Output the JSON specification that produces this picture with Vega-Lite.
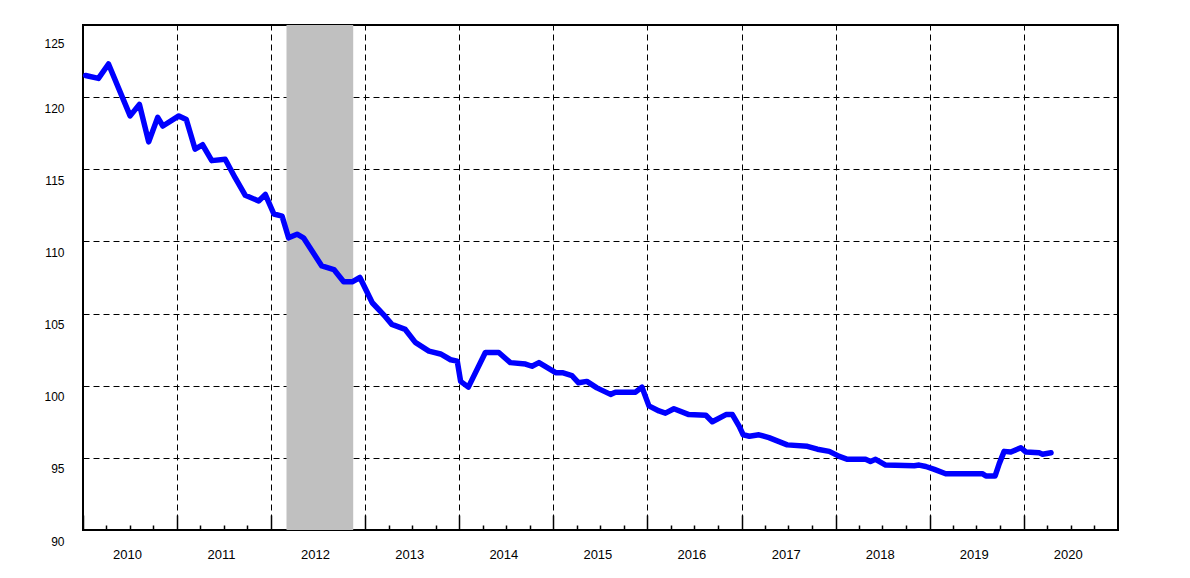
{
  "$schema": "https://vega.github.io/schema/vega-lite/v6.json",
  "width": 1035,
  "height": 505,
  "autosize": {"type": "none"},
  "padding": {"left": 83, "top": 25, "right": 72, "bottom": 48},
  "background": "white",
  "config": {
    "view": {"stroke": "black", "strokeWidth": 2},
    "axis": {"labelFont": "Liberation Sans", "labelColor": "black", "gridColor": "black", "gridDash": [6, 4], "gridWidth": 1, "gridOpacity": 1, "tickColor": "black", "tickOpacity": 1}
  },
  "datasets": {
    "recession": [{"start": "2012-03-01", "end": "2012-11-15"}],
    "series": [
      {"date": "2010-01-11", "value": 121.5},
      {"date": "2010-03-02", "value": 121.3},
      {"date": "2010-04-10", "value": 122.3},
      {"date": "2010-07-03", "value": 118.7},
      {"date": "2010-08-08", "value": 119.5},
      {"date": "2010-09-13", "value": 116.9},
      {"date": "2010-10-18", "value": 118.6},
      {"date": "2010-11-07", "value": 118.0},
      {"date": "2011-01-08", "value": 118.7},
      {"date": "2011-02-06", "value": 118.45},
      {"date": "2011-03-12", "value": 116.4},
      {"date": "2011-04-10", "value": 116.7},
      {"date": "2011-05-16", "value": 115.6},
      {"date": "2011-07-07", "value": 115.7},
      {"date": "2011-08-15", "value": 114.4},
      {"date": "2011-09-23", "value": 113.2},
      {"date": "2011-11-14", "value": 112.8},
      {"date": "2011-12-10", "value": 113.25},
      {"date": "2012-01-12", "value": 111.9},
      {"date": "2012-02-13", "value": 111.75},
      {"date": "2012-03-09", "value": 110.25},
      {"date": "2012-04-11", "value": 110.5},
      {"date": "2012-05-06", "value": 110.25},
      {"date": "2012-07-16", "value": 108.3},
      {"date": "2012-09-01", "value": 108.05},
      {"date": "2012-10-09", "value": 107.2},
      {"date": "2012-11-11", "value": 107.2},
      {"date": "2012-12-11", "value": 107.5},
      {"date": "2013-01-28", "value": 105.75},
      {"date": "2013-03-19", "value": 104.8},
      {"date": "2013-04-14", "value": 104.25},
      {"date": "2013-06-05", "value": 103.9},
      {"date": "2013-07-14", "value": 103.0},
      {"date": "2013-09-05", "value": 102.4},
      {"date": "2013-10-20", "value": 102.2},
      {"date": "2013-11-28", "value": 101.8},
      {"date": "2013-12-24", "value": 101.7},
      {"date": "2014-01-06", "value": 100.3},
      {"date": "2014-02-05", "value": 99.9},
      {"date": "2014-04-12", "value": 102.3},
      {"date": "2014-06-03", "value": 102.3},
      {"date": "2014-07-18", "value": 101.6},
      {"date": "2014-09-15", "value": 101.5},
      {"date": "2014-10-10", "value": 101.35},
      {"date": "2014-11-06", "value": 101.6},
      {"date": "2015-01-10", "value": 100.9},
      {"date": "2015-02-05", "value": 100.9},
      {"date": "2015-03-14", "value": 100.7},
      {"date": "2015-04-09", "value": 100.2},
      {"date": "2015-05-11", "value": 100.3},
      {"date": "2015-06-19", "value": 99.85},
      {"date": "2015-08-11", "value": 99.4},
      {"date": "2015-08-30", "value": 99.55},
      {"date": "2015-11-16", "value": 99.55},
      {"date": "2015-12-11", "value": 99.9},
      {"date": "2016-01-07", "value": 98.6},
      {"date": "2016-02-15", "value": 98.25},
      {"date": "2016-03-11", "value": 98.1},
      {"date": "2016-04-13", "value": 98.4},
      {"date": "2016-06-10", "value": 98.0},
      {"date": "2016-08-15", "value": 97.95},
      {"date": "2016-09-09", "value": 97.5},
      {"date": "2016-11-01", "value": 98.0},
      {"date": "2016-11-26", "value": 98.0},
      {"date": "2016-12-22", "value": 97.2},
      {"date": "2017-01-07", "value": 96.6},
      {"date": "2017-01-31", "value": 96.5},
      {"date": "2017-03-09", "value": 96.6},
      {"date": "2017-04-17", "value": 96.4},
      {"date": "2017-06-27", "value": 95.9},
      {"date": "2017-09-13", "value": 95.8},
      {"date": "2017-10-22", "value": 95.6},
      {"date": "2017-12-07", "value": 95.45},
      {"date": "2018-01-15", "value": 95.1},
      {"date": "2018-02-16", "value": 94.9},
      {"date": "2018-04-27", "value": 94.9},
      {"date": "2018-05-16", "value": 94.75},
      {"date": "2018-06-05", "value": 94.9},
      {"date": "2018-07-14", "value": 94.5},
      {"date": "2018-11-02", "value": 94.45},
      {"date": "2018-11-21", "value": 94.5},
      {"date": "2018-12-17", "value": 94.4},
      {"date": "2019-01-19", "value": 94.2},
      {"date": "2019-03-04", "value": 93.9},
      {"date": "2019-07-24", "value": 93.9},
      {"date": "2019-08-07", "value": 93.75},
      {"date": "2019-09-12", "value": 93.75},
      {"date": "2019-09-28", "value": 94.6},
      {"date": "2019-10-17", "value": 95.45},
      {"date": "2019-11-12", "value": 95.4},
      {"date": "2019-12-21", "value": 95.7},
      {"date": "2020-01-10", "value": 95.4},
      {"date": "2020-03-01", "value": 95.35},
      {"date": "2020-03-14", "value": 95.25},
      {"date": "2020-04-16", "value": 95.35}
    ]
  },
  "layer": [
    {
      "data": {"name": "recession"},
      "mark": {"type": "rect", "color": "#c0c0c0"},
      "encoding": {
        "x": {
          "field": "start", "type": "temporal",
          "scale": {"domain": ["2010-01-01", "2021-01-01"], "nice": false},
          "axis": {
            "title": null, "orient": "bottom",
            "values": ["2010-01-01", "2011-01-01", "2012-01-01", "2013-01-01", "2014-01-01", "2015-01-01", "2016-01-01", "2017-01-01", "2018-01-01", "2019-01-01", "2020-01-01"],
            "format": "%Y", "grid": true, "domain": false,
            "ticks": true, "tickSize": -15, "tickWidth": 1.5,
            "labelOffset": 44, "labelPadding": 33, "labelFontSize": 13, "labelBaseline": "top", "labelAlign": "center", "labelFlush": false
          }
        },
        "x2": {"field": "end"}
      }
    },
    {
      "data": {"name": "series"},
      "mark": {"type": "line", "color": "#0000ff", "strokeWidth": 5.5, "strokeJoin": "round", "strokeCap": "round"},
      "encoding": {
        "x": {
          "field": "date", "type": "temporal",
          "scale": {"domain": ["2010-01-01", "2021-01-01"], "nice": false},
          "axis": {
            "title": null, "orient": "bottom",
            "values": ["2010-04-01", "2010-07-01", "2010-10-01", "2011-04-01", "2011-07-01", "2011-10-01", "2012-04-01", "2012-07-01", "2012-10-01", "2013-04-01", "2013-07-01", "2013-10-01", "2014-04-01", "2014-07-01", "2014-10-01", "2015-04-01", "2015-07-01", "2015-10-01", "2016-04-01", "2016-07-01", "2016-10-01", "2017-04-01", "2017-07-01", "2017-10-01", "2018-04-01", "2018-07-01", "2018-10-01", "2019-04-01", "2019-07-01", "2019-10-01", "2020-04-01", "2020-07-01", "2020-10-01"],
            "grid": false, "domain": false, "labels": false,
            "ticks": true, "tickSize": -5, "tickWidth": 1.5
          }
        },
        "y": {
          "field": "value", "type": "quantitative",
          "scale": {"domain": [90, 125], "nice": false, "zero": false},
          "axis": {
            "title": null, "values": [90, 95, 100, 105, 110, 115, 120, 125],
            "grid": true, "domain": false, "ticks": false,
            "labelPadding": 19, "labelFontSize": 12, "labelFlush": false,
            "labelOffset": {"condition": {"test": "datum.value == 125", "value": 18}, "value": 11}
          }
        }
      }
    }
  ],
  "resolve": {"axis": {"x": "independent"}}
}
